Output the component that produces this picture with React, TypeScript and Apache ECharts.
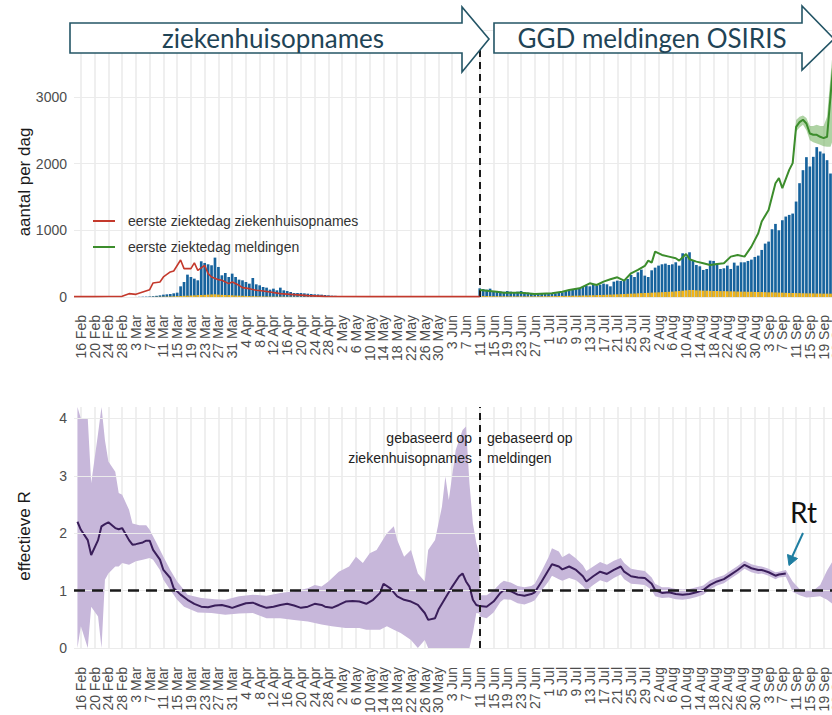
import React, { useEffect, useRef } from 'react';
import * as echarts from 'echarts';

// ---------- categories (one per day, 2020) ----------
const MONTHS = ['Jan', 'Feb', 'Mar', 'Apr', 'May', 'Jun', 'Jul', 'Aug', 'Sep', 'Oct', 'Nov', 'Dec'];
const FIRST_DAY = Date.UTC(2020, 1, 14);
const DAY_COUNT = 225;
const categories: string[] = Array.from({ length: DAY_COUNT }, (_, i) => {
  const d = new Date(FIRST_DAY + i * 86400000);
  return `${d.getUTCDate()} ${MONTHS[d.getUTCMonth()]}`;
});
const TICK_FIRST = '16 Feb';
const TICK_STEP = 4;
const SWITCH_DATE = '11 Jun';
const countTicks = [0, 1000, 2000, 3000];
const rTicks = [0, 1, 2, 3, 4];

// ---------- top panel: daily bars ----------
const hospitalStart = '4 Mar';
const hospitalBars = [3, 5, 6, 8, 12, 18, 25, 35, 40, 45, 55,
  65, 160, 225, 335, 300, 275, 250, 535, 510, 490, 475, 590, 450, 325, 360, 300, 350, 300,
  260, 250, 225, 200, 285, 190, 175, 150, 140, 110, 125, 100, 140, 100, 90,
  75, 60, 60, 60, 55, 50, 45, 40, 38, 35,
  30, 25, 20, 18, 15, 12, 12, 10, 12, 10,
  8, 8, 7, 7, 6, 6, 5, 5, 5, 5,
  4, 4, 4, 3, 3, 3, 3, 3, 3, 3,
  2, 2, 2, 2, 2, 2, 2, 2, 2, 2,
  2, 2, 2, 2, 2];
const hospitalYellow = [0, 0, 0, 1, 2, 3, 4, 5, 6, 8, 10,
  12, 15, 18, 20, 22, 25, 28, 30, 32, 35, 38, 40, 36, 32, 30, 28, 25, 22,
  20, 18, 16, 14, 12, 11, 10, 9, 8, 7, 6, 6, 5, 5, 4,
  4, 4, 3, 3, 3, 3, 3, 3, 2, 2,
  2, 2, 2, 2, 2, 2, 2, 2, 2, 2,
  1, 1, 1, 1, 1, 1, 1, 1, 1, 1,
  1, 1, 1, 1, 1, 1, 1, 1, 1, 1,
  1, 1, 1, 1, 1, 1, 1, 1, 1, 1,
  1, 1, 1, 1, 1];
const reportStart = '11 Jun';
const reportBars = [130, 120, 110, 125, 85, 88, 82, 78,
  90, 80, 75, 80, 90, 70, 65, 60, 60, 55, 55, 50, 55, 50, 55, 60, 70, 90, 100, 110,
  120, 130, 150, 170, 160, 190, 170, 185, 200, 190, 160, 230, 245, 240, 250,
  270, 330, 300, 370, 410, 320, 300, 400, 440, 470, 490, 500, 480, 490, 520,
  470, 655, 605, 670, 550, 480, 460, 405, 420, 545, 540, 500, 420, 430, 470,
  420, 515, 470, 520, 520, 540, 560, 600, 620, 705, 800, 830, 1015, 1095, 1000,
  1150, 1205, 1230, 1250, 1430, 1705, 1900, 2095, 1955, 2100, 2245, 2180,
  2150, 2050, 1850, 1900, 1700];
const reportYellow = [15, 14, 14, 13, 12, 12, 11, 11, 10, 10, 10, 10, 10, 10, 10,
  10, 10, 11, 11, 12, 12, 13, 14, 15, 16, 17, 18, 19, 20, 21,
  22, 23, 25, 26, 28, 30, 32, 34, 36, 38, 40, 42, 45, 48, 50,
  52, 55, 58, 60, 62, 65, 68, 70, 72, 75, 78, 80, 85, 90, 95,
  100, 105, 105, 100, 98, 95, 95, 92, 90, 90, 88, 88, 86, 85, 84,
  82, 80, 80, 78, 78, 76, 75, 74, 72, 70, 70, 68, 66, 65, 62,
  60, 60, 58, 58, 56, 55, 55, 54, 52, 52, 50, 50, 50, 50, 50];

// ---------- top panel: lines ----------
const redLine: [string, number][] = [['14 Feb', 5], ['20 Feb', 5], ['24 Feb', 8], ['28 Feb', 10], ['1 Mar', 50],
  ['3 Mar', 40], ['5 Mar', 75], ['7 Mar', 110], ['8 Mar', 210], ['10 Mar', 225], ['11 Mar', 300], ['13 Mar', 375],
  ['14 Mar', 390], ['16 Mar', 555], ['17 Mar', 425], ['19 Mar', 425], ['20 Mar', 510], ['21 Mar', 400],
  ['23 Mar', 475], ['24 Mar', 350], ['25 Mar', 300], ['27 Mar', 260], ['28 Mar', 250], ['30 Mar', 200],
  ['31 Mar', 225], ['2 Apr', 175], ['3 Apr', 140], ['5 Apr', 125], ['7 Apr', 100], ['9 Apr', 90], ['11 Apr', 75],
  ['14 Apr', 50], ['18 Apr', 35], ['22 Apr', 20], ['27 Apr', 10], ['10 May', 6], ['1 Jun', 5], ['11 Jun', 5]];
const greenLine: [string, number][] = [['11 Jun', 105], ['13 Jun', 95], ['16 Jun', 80], ['18 Jun', 65], ['23 Jun', 65],
  ['27 Jun', 45], ['2 Jul', 55], ['5 Jul', 80], ['7 Jul', 105], ['10 Jul', 130], ['13 Jul', 205], ['15 Jul', 180],
  ['17 Jul', 230], ['19 Jul', 265], ['21 Jul', 295], ['23 Jul', 245], ['25 Jul', 355], ['27 Jul', 405], ['29 Jul', 465],
  ['30 Jul', 545], ['31 Jul', 515], ['1 Aug', 680], ['3 Aug', 630], ['5 Aug', 605], ['7 Aug', 580], ['8 Aug', 545],
  ['10 Aug', 645], ['11 Aug', 565], ['13 Aug', 530], ['15 Aug', 505], ['17 Aug', 480], ['19 Aug', 495], ['21 Aug', 505],
  ['23 Aug', 605], ['25 Aug', 630], ['27 Aug', 605], ['29 Aug', 755], ['31 Aug', 955], ['1 Sep', 1130], ['3 Sep', 1305],
  ['5 Sep', 1705], ['6 Sep', 1780], ['7 Sep', 1630], ['9 Sep', 1905], ['10 Sep', 2005], ['11 Sep', 2550], ['12 Sep', 2620],
  ['13 Sep', 2655], ['14 Sep', 2600], ['15 Sep', 2450], ['16 Sep', 2430], ['17 Sep', 2430], ['18 Sep', 2400],
  ['19 Sep', 2380], ['20 Sep', 2400], ['21 Sep', 3000], ['22 Sep', 3600]];
const greenUpper: [string, number][] = [['10 Sep', 2080], ['11 Sep', 2650], ['12 Sep', 2700], ['13 Sep', 2720], ['14 Sep', 2680],
  ['15 Sep', 2560], ['16 Sep', 2560], ['17 Sep', 2580], ['18 Sep', 2560], ['19 Sep', 2560], ['20 Sep', 2700], ['21 Sep', 3300], ['22 Sep', 3900]];
const greenLower: [string, number][] = [['10 Sep', 1950], ['11 Sep', 2480], ['12 Sep', 2540], ['13 Sep', 2580], ['14 Sep', 2500],
  ['15 Sep', 2350], ['16 Sep', 2320], ['17 Sep', 2300], ['18 Sep', 2280], ['19 Sep', 2260], ['20 Sep', 2250], ['21 Sep', 2250], ['22 Sep', 2400]];

// ---------- bottom panel: effective R ----------
const rLine: [string, number][] = [['15 Feb', 2.2], ['16 Feb', 2.06], ['18 Feb', 1.88], ['19 Feb', 1.62], ['21 Feb', 1.88],
  ['22 Feb', 2.12], ['23 Feb', 2.16], ['24 Feb', 2.19], ['26 Feb', 2.09], ['27 Feb', 2.07], ['28 Feb', 2.09], ['1 Mar', 1.88],
  ['2 Mar', 1.8], ['3 Mar', 1.81], ['5 Mar', 1.84], ['6 Mar', 1.87], ['7 Mar', 1.87], ['8 Mar', 1.71], ['10 Mar', 1.54],
  ['11 Mar', 1.36], ['13 Mar', 1.22], ['14 Mar', 1.04], ['16 Mar', 0.93], ['18 Mar', 0.84], ['20 Mar', 0.77], ['22 Mar', 0.72],
  ['24 Mar', 0.71], ['26 Mar', 0.74], ['28 Mar', 0.75], ['30 Mar', 0.72], ['31 Mar', 0.7], ['2 Apr', 0.74], ['4 Apr', 0.78],
  ['6 Apr', 0.79], ['8 Apr', 0.74], ['10 Apr', 0.7], ['12 Apr', 0.72], ['14 Apr', 0.75], ['16 Apr', 0.77], ['18 Apr', 0.74],
  ['20 Apr', 0.7], ['22 Apr', 0.72], ['24 Apr', 0.77], ['26 Apr', 0.75], ['27 Apr', 0.72], ['29 Apr', 0.7], ['1 May', 0.75],
  ['3 May', 0.81], ['5 May', 0.82], ['7 May', 0.81], ['9 May', 0.77], ['11 May', 0.84], ['13 May', 0.96], ['14 May', 1.12],
  ['16 May', 1.04], ['18 May', 0.9], ['20 May', 0.84], ['22 May', 0.81], ['24 May', 0.75], ['26 May', 0.61], ['27 May', 0.49],
  ['29 May', 0.52], ['30 May', 0.67], ['1 Jun', 0.87], ['3 Jun', 1.07], ['5 Jun', 1.25], ['6 Jun', 1.3], ['7 Jun', 1.16],
  ['8 Jun', 1.07], ['9 Jun', 0.84], ['10 Jun', 0.75], ['11 Jun', 0.73], ['13 Jun', 0.72], ['15 Jun', 0.81], ['17 Jun', 0.96],
  ['18 Jun', 1.01], ['20 Jun', 0.99], ['22 Jun', 0.93], ['24 Jun', 0.91], ['26 Jun', 0.94], ['27 Jun', 0.97], ['29 Jun', 1.16],
  ['1 Jul', 1.36], ['2 Jul', 1.46], ['4 Jul', 1.42], ['5 Jul', 1.37], ['7 Jul', 1.42], ['9 Jul', 1.36], ['11 Jul', 1.25],
  ['12 Jul', 1.16], ['14 Jul', 1.25], ['16 Jul', 1.33], ['18 Jul', 1.29], ['20 Jul', 1.36], ['22 Jul', 1.42], ['23 Jul', 1.33],
  ['25 Jul', 1.25], ['27 Jul', 1.23], ['29 Jul', 1.22], ['31 Jul', 1.12], ['1 Aug', 1.01], ['3 Aug', 0.96], ['5 Aug', 0.97],
  ['7 Aug', 0.94], ['9 Aug', 0.93], ['11 Aug', 0.94], ['13 Aug', 0.97], ['15 Aug', 1.01], ['17 Aug', 1.1], ['19 Aug', 1.16],
  ['21 Aug', 1.2], ['23 Aug', 1.28], ['25 Aug', 1.36], ['27 Aug', 1.45], ['29 Aug', 1.39], ['31 Aug', 1.36], ['1 Sep', 1.36],
  ['3 Sep', 1.32], ['5 Sep', 1.26], ['6 Sep', 1.28], ['8 Sep', 1.3]];
const rUpperHospital: [string, number][] = [['15 Feb', 4.2], ['16 Feb', 4.0], ['18 Feb', 4.0], ['19 Feb', 2.87], ['21 Feb', 3.74],
  ['22 Feb', 4.2], ['23 Feb', 3.62], ['24 Feb', 3.25], ['26 Feb', 3.07], ['27 Feb', 2.7], ['28 Feb', 2.67], ['1 Mar', 2.41],
  ['2 Mar', 2.17], ['4 Mar', 2.14], ['6 Mar', 2.14], ['7 Mar', 2.06], ['9 Mar', 1.83], ['11 Mar', 1.59], ['13 Mar', 1.36],
  ['15 Mar', 1.16], ['17 Mar', 1.01], ['18 Mar', 0.93], ['22 Mar', 0.87], ['26 Mar', 0.85], ['29 Mar', 0.84], ['2 Apr', 0.9],
  ['6 Apr', 0.93], ['10 Apr', 0.91], ['14 Apr', 0.96], ['18 Apr', 0.99], ['22 Apr', 1.04], ['24 Apr', 1.1], ['26 Apr', 1.07],
  ['28 Apr', 1.16], ['1 May', 1.33], ['4 May', 1.42], ['6 May', 1.59], ['8 May', 1.48], ['10 May', 1.65], ['12 May', 1.71],
  ['15 May', 2.0], ['17 May', 2.12], ['18 May', 1.88], ['20 May', 1.59], ['22 May', 1.71], ['24 May', 1.3], ['26 May', 1.16],
  ['27 May', 1.71], ['29 May', 1.88], ['31 May', 2.46], ['1 Jun', 2.99], ['2 Jun', 2.58], ['4 Jun', 3.45], ['6 Jun', 3.8],
  ['7 Jun', 3.86], ['8 Jun', 2.87], ['9 Jun', 2.17], ['10 Jun', 1.83], ['11 Jun', 1.6]];
const rLowerHospital: [string, number][] = [['15 Feb', 0], ['16 Feb', 0.38], ['18 Feb', 0], ['19 Feb', 0.72], ['21 Feb', 0.55],
  ['22 Feb', 0], ['23 Feb', 1.19], ['24 Feb', 1.3], ['26 Feb', 1.42], ['27 Feb', 1.42], ['28 Feb', 1.48], ['1 Mar', 1.45],
  ['3 Mar', 1.51], ['5 Mar', 1.54], ['7 Mar', 1.57], ['8 Mar', 1.54], ['10 Mar', 1.36], ['11 Mar', 1.19], ['13 Mar', 1.01],
  ['15 Mar', 0.84], ['17 Mar', 0.72], ['21 Mar', 0.62], ['25 Mar', 0.61], ['29 Mar', 0.58], ['2 Apr', 0.6], ['6 Apr', 0.61],
  ['10 Apr', 0.52], ['14 Apr', 0.52], ['18 Apr', 0.49], ['22 Apr', 0.46], ['26 Apr', 0.41], ['29 Apr', 0.38], ['3 May', 0.35],
  ['7 May', 0.35], ['9 May', 0.32], ['13 May', 0.32], ['15 May', 0.38], ['17 May', 0.32], ['19 May', 0.26], ['22 May', 0.14],
  ['24 May', 0], ['26 May', 0.14], ['27 May', 0], ['8 Jun', 0], ['9 Jun', 0.26], ['10 Jun', 0.61], ['11 Jun', 0.6]];
const rUpperReports: [string, number][] = [['11 Jun', 0.92], ['13 Jun', 0.92], ['15 Jun', 1.0], ['17 Jun', 1.13], ['18 Jun', 1.17],
  ['20 Jun', 1.14], ['22 Jun', 1.08], ['24 Jun', 1.06], ['26 Jun', 1.08], ['27 Jun', 1.12], ['29 Jun', 1.34], ['1 Jul', 1.58],
  ['2 Jul', 1.74], ['4 Jul', 1.68], ['5 Jul', 1.58], ['7 Jul', 1.65], ['9 Jul', 1.56], ['11 Jul', 1.44], ['12 Jul', 1.34],
  ['14 Jul', 1.42], ['16 Jul', 1.5], ['18 Jul', 1.45], ['20 Jul', 1.52], ['22 Jul', 1.57], ['23 Jul', 1.48], ['25 Jul', 1.38],
  ['27 Jul', 1.36], ['29 Jul', 1.34], ['31 Jul', 1.23], ['1 Aug', 1.12], ['3 Aug', 1.06], ['5 Aug', 1.06], ['7 Aug', 1.03],
  ['9 Aug', 1.02], ['11 Aug', 1.03], ['13 Aug', 1.06], ['15 Aug', 1.09], ['17 Aug', 1.18], ['19 Aug', 1.23], ['21 Aug', 1.27],
  ['23 Aug', 1.35], ['25 Aug', 1.43], ['27 Aug', 1.52], ['29 Aug', 1.46], ['31 Aug', 1.43], ['1 Sep', 1.42], ['3 Sep', 1.38],
  ['5 Sep', 1.32], ['6 Sep', 1.33], ['8 Sep', 1.36], ['10 Sep', 1.16], ['12 Sep', 1.03], ['14 Sep', 1.0], ['16 Sep', 1.0],
  ['18 Sep', 1.1], ['20 Sep', 1.35], ['22 Sep', 1.55]];
const rLowerReports: [string, number][] = [['11 Jun', 0.55], ['13 Jun', 0.52], ['15 Jun', 0.62], ['17 Jun', 0.8], ['18 Jun', 0.85],
  ['20 Jun', 0.84], ['22 Jun', 0.78], ['24 Jun', 0.76], ['26 Jun', 0.8], ['27 Jun', 0.83], ['29 Jun', 1.0], ['1 Jul', 1.16],
  ['2 Jul', 1.26], ['4 Jul', 1.2], ['5 Jul', 1.17], ['7 Jul', 1.22], ['9 Jul', 1.18], ['11 Jul', 1.08], ['12 Jul', 1.0],
  ['14 Jul', 1.1], ['16 Jul', 1.18], ['18 Jul', 1.14], ['20 Jul', 1.22], ['22 Jul', 1.28], ['23 Jul', 1.2], ['25 Jul', 1.12],
  ['27 Jul', 1.11], ['29 Jul', 1.1], ['31 Jul', 1.01], ['1 Aug', 0.9], ['3 Aug', 0.87], ['5 Aug', 0.88], ['7 Aug', 0.85],
  ['9 Aug', 0.84], ['11 Aug', 0.86], ['13 Aug', 0.89], ['15 Aug', 0.93], ['17 Aug', 1.02], ['19 Aug', 1.09], ['21 Aug', 1.13],
  ['23 Aug', 1.21], ['25 Aug', 1.29], ['27 Aug', 1.38], ['29 Aug', 1.32], ['31 Aug', 1.29], ['1 Sep', 1.3], ['3 Sep', 1.26],
  ['5 Sep', 1.2], ['6 Sep', 1.23], ['8 Sep', 1.24], ['10 Sep', 0.98], ['12 Sep', 0.92], ['14 Sep', 0.88], ['16 Sep', 0.89],
  ['18 Sep', 0.9], ['20 Sep', 0.84], ['22 Sep', 0.75]];

// ---------- helpers ----------
const FONT = '"Liberation Sans", Arial, Helvetica, sans-serif';
const SLIDE_FONT = 'Lato, "Open Sans", sans-serif';
const DAY_PX = 784 / 228;
const idx = (d: string) => categories.indexOf(d);
const tickStartIdx = idx(TICK_FIRST);
const showTick = (i: number) => i >= tickStartIdx && (i - tickStartIdx) % TICK_STEP === 0;
const switchIdx = idx(SWITCH_DATE);

function placeDaily(parts: [string, number[]][]) {
  const arr: (number | null)[] = new Array(categories.length).fill(null);
  parts.forEach(([start, values]) => {
    const s = idx(start);
    values.forEach((v, i) => { if (s + i < arr.length) arr[s + i] = v; });
  });
  return arr;
}
const pts = (list: [string, number][]) => list.map(([d, v]) => [idx(d), v]);

function ribbon(upper: [string, number][], lower: [string, number][], color: string, axis: number, z: number) {
  return {
    type: 'custom',
    xAxisIndex: axis,
    yAxisIndex: axis,
    silent: true,
    z,
    data: [[0, 0]],
    renderItem: (_params: any, api: any) => {
      const points = [
        ...upper.map(([d, v]) => api.coord([idx(d), v])),
        ...lower.slice().reverse().map(([d, v]) => api.coord([idx(d), v])),
      ];
      return { type: 'polygon', shape: { points }, style: { fill: color } };
    },
  };
}

const xAxisFor = (gridIndex: number, margin: number) => ({
  type: 'category',
  gridIndex,
  data: categories,
  boundaryGap: false,
  axisLine: { show: false },
  axisTick: { show: false },
  axisLabel: {
    interval: 0,
    formatter: (value: string, i: number) => (showTick(i) ? value : ''),
    rotate: 90, fontSize: 14, color: '#4d4d4d', margin, fontFamily: FONT, hideOverlap: false,
  },
  splitLine: { show: true, interval: (i: number) => showTick(i), lineStyle: { color: '#ebebeb', width: 1.6 } },
});

const gridWidth = (DAY_COUNT - 1) * DAY_PX;

const option: any = {
  animation: false,
  backgroundColor: '#ffffff',
  textStyle: { fontFamily: FONT },
  grid: [
    { left: 74, width: gridWidth, top: 30, height: 267, outerBoundsMode: 'none', containLabel: false },
    { left: 74, width: gridWidth, top: 407, height: 241, outerBoundsMode: 'none', containLabel: false },
  ],
  legend: {
    data: ['eerste ziektedag ziekenhuisopnames', 'eerste ziektedag meldingen'],
    orient: 'vertical',
    left: 88,
    top: 209,
    icon: 'rect',
    itemWidth: 22,
    itemHeight: 2,
    itemGap: 12,
    textStyle: { fontSize: 14, color: '#333', fontFamily: FONT, padding: [0, 0, 0, 8] },
  },
  xAxis: [xAxisFor(0, 18), xAxisFor(1, 19)],
  yAxis: [
    {
      type: 'value', gridIndex: 0, min: 0, max: 4000, interval: 1000,
      axisLine: { show: false }, axisTick: { show: false },
      axisLabel: { formatter: (v: number) => (countTicks.includes(v) ? String(v) : ''), fontSize: 14, color: '#4d4d4d', margin: 7, fontFamily: FONT },
      splitLine: { lineStyle: { color: '#ebebeb', width: 1.2 } },
    },
    {
      type: 'value', gridIndex: 1, min: 0, max: 4.2, interval: 1,
      axisLine: { show: false }, axisTick: { show: false },
      axisLabel: { formatter: (v: number) => (rTicks.includes(v) ? String(v) : ''), fontSize: 14, color: '#4d4d4d', margin: 7, fontFamily: FONT },
      splitLine: { show: false },
    },
  ],
  series: [
    {
      name: 'totaal', type: 'bar', xAxisIndex: 0, yAxisIndex: 0, z: 2,
      data: placeDaily([[hospitalStart, hospitalBars], [reportStart, reportBars]]),
      itemStyle: { color: '#17639d' }, barCategoryGap: '22%', barGap: '-100%',
    },
    {
      name: 'ic', type: 'bar', xAxisIndex: 0, yAxisIndex: 0, z: 3,
      data: placeDaily([[hospitalStart, hospitalYellow], [reportStart, reportYellow]]),
      itemStyle: { color: '#f2b418' }, barCategoryGap: '22%', barGap: '-100%',
    },
    ribbon(greenUpper, greenLower, 'rgba(110,175,90,0.55)', 0, 4),
    {
      name: 'eerste ziektedag ziekenhuisopnames', type: 'line', xAxisIndex: 0, yAxisIndex: 0, z: 5,
      data: pts(redLine), showSymbol: false, color: '#c4392c', lineStyle: { width: 1.6, color: '#c4392c' },
      markLine: {
        symbol: 'none', silent: true, label: { show: false },
        lineStyle: { color: '#1a1a1a', type: [7, 5], width: 2 },
        data: [{ xAxis: switchIdx }],
      },
    },
    {
      name: 'eerste ziektedag meldingen', type: 'line', xAxisIndex: 0, yAxisIndex: 0, z: 5,
      data: pts(greenLine), showSymbol: false, color: '#3c8d2c', lineStyle: { width: 2, color: '#3c8d2c' },
    },
    {
      name: 'rgrid', type: 'line', xAxisIndex: 1, yAxisIndex: 1, z: 0, data: [], silent: true,
      markLine: {
        symbol: 'none', silent: true, label: { show: false },
        lineStyle: { type: 'solid', color: '#ebebeb', width: 1.2 },
        data: rTicks.map((v) => ({ yAxis: v })),
      },
    },
    ribbon(rUpperHospital, rLowerHospital, '#c7b7da', 1, 1),
    ribbon(rUpperReports, rLowerReports, '#c7b7da', 1, 1),
    {
      name: 'R', type: 'line', xAxisIndex: 1, yAxisIndex: 1, z: 3,
      data: pts(rLine), showSymbol: false, color: '#3a1e5a', lineStyle: { width: 2, color: '#3a1e5a' },
      markLine: {
        symbol: 'none', silent: true, label: { show: false },
        data: [
          { yAxis: 1, lineStyle: { color: '#1a1a1a', type: [11, 7], width: 2.5 } },
          { xAxis: switchIdx, lineStyle: { color: '#1a1a1a', type: [7, 5], width: 2 } },
        ],
      },
    },
  ],
  graphic: [
    {
      type: 'polygon', z: 100,
      shape: { points: [[70, 23], [462, 23], [462, 7], [489, 39], [462, 72], [462, 53], [70, 53]] },
      style: { fill: '#ffffff', stroke: '#245566', lineWidth: 1.6 },
    },
    {
      type: 'polygon', z: 100,
      shape: { points: [[494, 23], [802, 23], [802, 6], [834, 39], [802, 70], [802, 53], [494, 53]] },
      style: { fill: '#ffffff', stroke: '#245566', lineWidth: 1.6 },
    },
    {
      type: 'text', z: 101, x: 273, y: 38,
      style: { text: 'ziekenhuisopnames', align: 'center', verticalAlign: 'middle', fontSize: 26, fontFamily: SLIDE_FONT, fill: '#1f4456' },
    },
    {
      type: 'text', z: 101, x: 652, y: 38,
      style: { text: 'GGD meldingen OSIRIS', align: 'center', verticalAlign: 'middle', fontSize: 26, fontFamily: SLIDE_FONT, fill: '#1f4456' },
    },
    {
      type: 'text', z: 101, x: 24, y: 182, rotation: Math.PI / 2,
      style: { text: 'aantal per dag', align: 'center', verticalAlign: 'middle', fontSize: 17, fontFamily: FONT, fill: '#1a1a1a' },
    },
    {
      type: 'text', z: 101, x: 24, y: 536, rotation: Math.PI / 2,
      style: { text: 'effectieve R', align: 'center', verticalAlign: 'middle', fontSize: 17, fontFamily: FONT, fill: '#1a1a1a' },
    },
    {
      type: 'text', z: 101, x: 472, y: 438,
      style: { text: 'gebaseerd op', align: 'right', verticalAlign: 'middle', fontSize: 14, fontFamily: FONT, fill: '#222' },
    },
    {
      type: 'text', z: 101, x: 472, y: 458,
      style: { text: 'ziekenhuisopnames', align: 'right', verticalAlign: 'middle', fontSize: 14, fontFamily: FONT, fill: '#222' },
    },
    {
      type: 'text', z: 101, x: 487, y: 438,
      style: { text: 'gebaseerd op', align: 'left', verticalAlign: 'middle', fontSize: 14, fontFamily: FONT, fill: '#222' },
    },
    {
      type: 'text', z: 101, x: 487, y: 458,
      style: { text: 'meldingen', align: 'left', verticalAlign: 'middle', fontSize: 14, fontFamily: FONT, fill: '#222' },
    },
    {
      type: 'text', z: 101, x: 790, y: 512,
      style: { text: 'Rt', align: 'left', verticalAlign: 'middle', fontSize: 28, fontFamily: SLIDE_FONT, fill: '#111' },
    },
    {
      type: 'line', z: 101,
      shape: { x1: 803, y1: 533, x2: 792, y2: 557 },
      style: { stroke: '#1f7ea1', lineWidth: 2 },
    },
    {
      type: 'polygon', z: 101,
      shape: { points: [[787.5, 554.5], [789, 565.5], [797.5, 558.5]] },
      style: { fill: '#1f7ea1', stroke: '#1f7ea1', lineWidth: 1 },
    },
  ],
};

export default function App() {
  const ref = useRef<HTMLDivElement>(null);
  useEffect(() => {
    if (!ref.current) return;
    const chart = echarts.init(ref.current, undefined, { renderer: 'svg' });
    chart.setOption(option);
    return () => chart.dispose();
  }, []);
  return (
    <div
      ref={ref}
      style={{ position: 'fixed', left: 0, top: 0, width: 832, height: 715, background: '#ffffff', overflow: 'hidden' }}
    />
  );
}
